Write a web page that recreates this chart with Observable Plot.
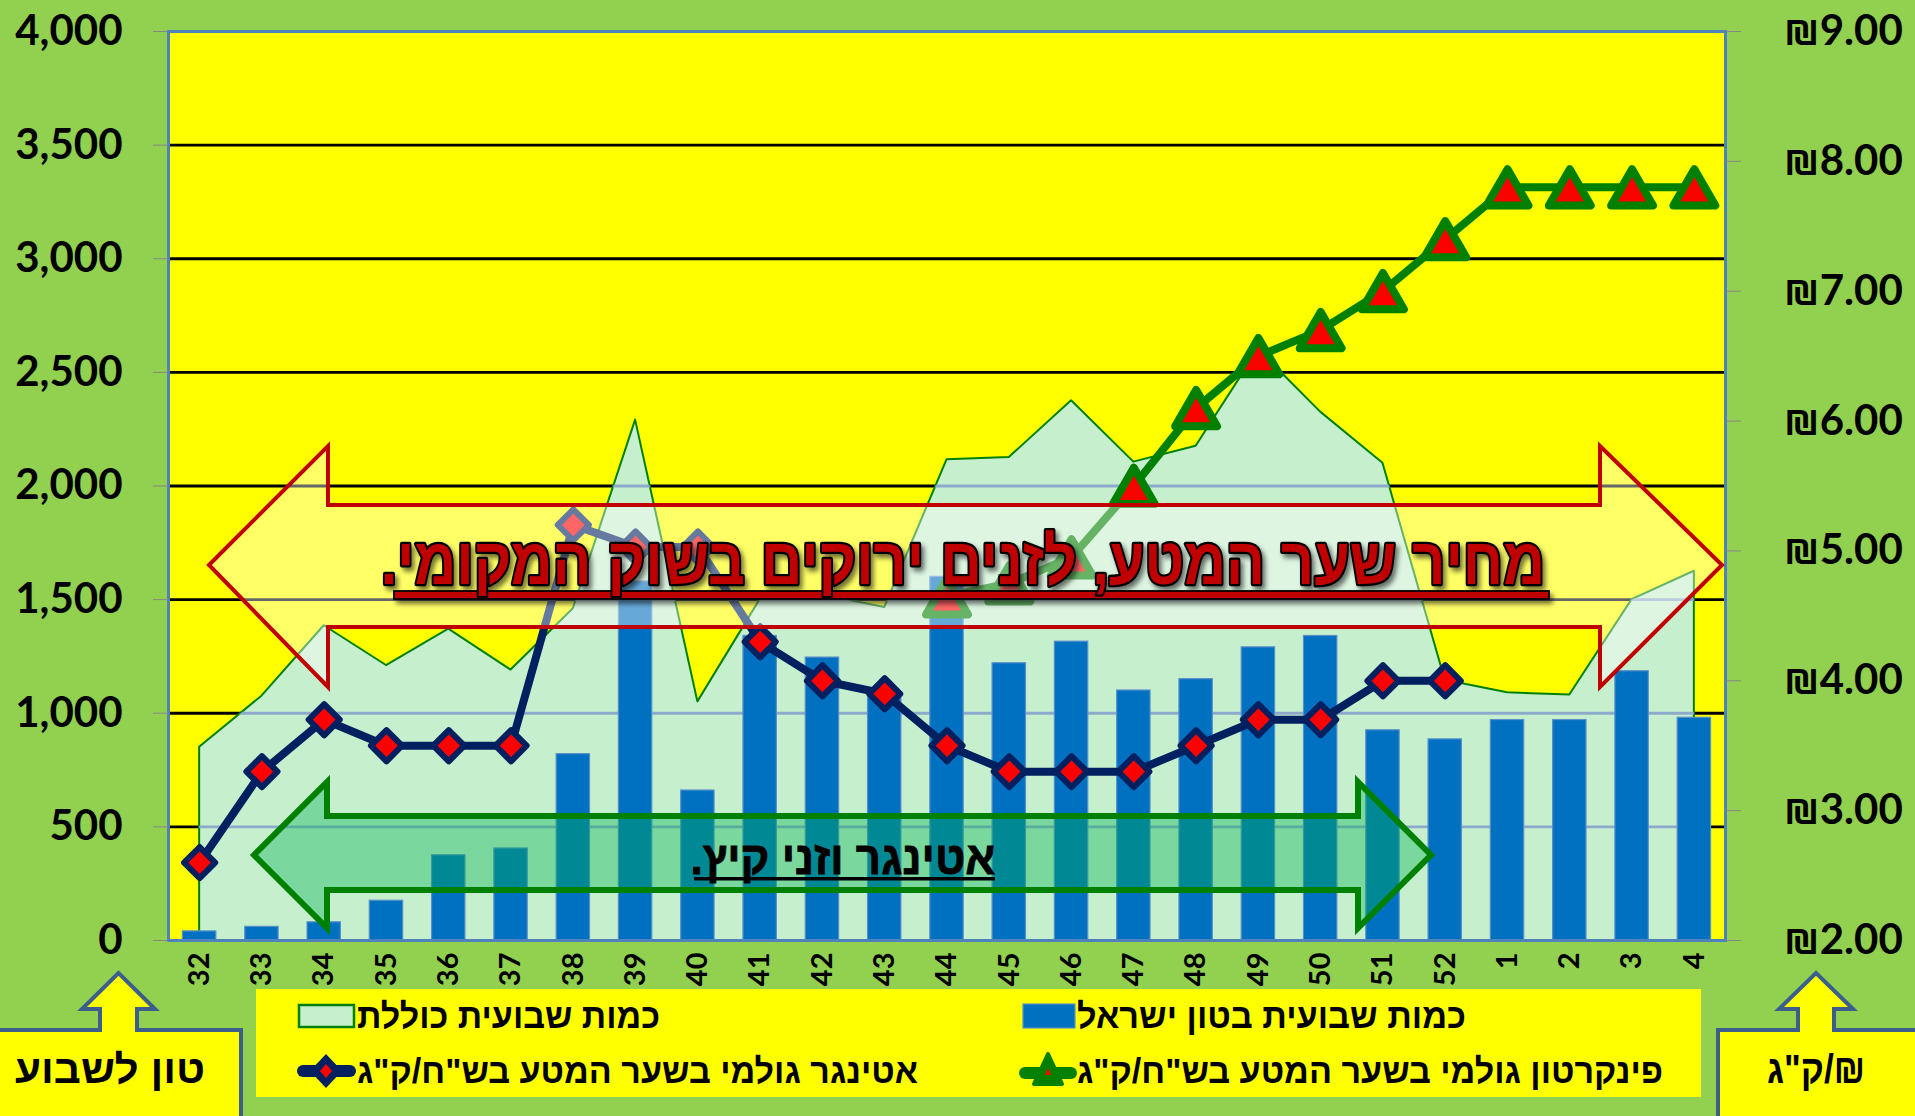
<!DOCTYPE html>
<html><head><meta charset="utf-8">
<script src="https://cdn.jsdelivr.net/npm/d3@7"></script>
<script src="https://cdn.jsdelivr.net/npm/@observablehq/plot@0.6"></script>
<style>
html,body{margin:0;padding:0;background:#92D050;overflow:hidden}
#chart{position:relative;width:1915px;height:1116px}
</style></head><body><div id="chart"></div>
<script>
// ---- data ----
const weeks = ["32","33","34","35","36","37","38","39","40","41","42","43","44","45","46","47","48","49","50","51","52","1","2","3","4"];
const israelTons = [40,60,80,175,375,405,820,1580,660,1340,1245,1070,1600,1220,1315,1100,1150,1290,1340,925,885,970,970,1185,980];
const totalTons = [850,1075,1385,1210,1370,1190,1460,2290,1050,1500,1520,1465,2115,2125,2375,2105,2175,2600,2325,2100,1145,1090,1080,1500,1625];
const ettingerPrice = [2.6,3.3,3.7,3.5,3.5,3.5,5.2,5.03,5.03,4.3,4.0,3.9,3.5,3.3,3.3,3.3,3.5,3.7,3.7,4.0,4.0,null,null,null,null];
const pinkertonPrice = [null,null,null,null,null,null,null,null,null,null,null,null,4.65,4.75,4.95,5.5,6.1,6.5,6.7,7.0,7.4,7.8,7.8,7.8,7.8];
const leftTicks = [0,500,1000,1500,2000,2500,3000,3500,4000];
const rightTicks = [2,3,4,5,6,7,8,9];
const legendLabels = ["כמות שבועית כוללת","כמות שבועית בטון ישראל","אטינגר גולמי בשער המטע בש\"ח/ק\"ג","פינקרטון גולמי בשער המטע בש\"ח/ק\"ג"];
const titleText = "מחיר שער המטע, לזנים ירוקים בשוק המקומי.";
const subText = "אטינגר וזני קיץ.";
const leftUnit = "טון לשבוע";
const rightUnit = "₪/ק\"ג";

// ---- layout ----
const W = 1915, H = 1116, mL = 168, mR = 190, mT = 31, mB = 176;
const rightMin = 2, rightMax = 9, leftMax = 4000;
const toLeft = p => (p - rightMin) * leftMax / (rightMax - rightMin);
const fromLeft = v => v * (rightMax - rightMin) / leftMax + rightMin;
const rows = weeks.map((w, i) => ({i, week: w, israel: israelTons[i], total: totalTons[i], ett: ettingerPrice[i], pink: pinkertonPrice[i]}));
const ettRows = rows.filter(d => d.ett != null);
const pinkRows = rows.filter(d => d.pink != null);
const halfBar = 0.268;
const numFont = "Lato, 'Open Sans', 'DejaVu Sans', sans-serif";
const hebFont = "'Liberation Sans', 'DejaVu Sans', sans-serif";

const plot = Plot.plot({
  width: W, height: H,
  marginLeft: mL, marginRight: mR, marginTop: mT, marginBottom: mB,
  style: {background: "transparent", overflow: "visible", fontFamily: numFont, color: "#000"},
  x: {type: "linear", domain: [-0.5, weeks.length - 0.5], label: null},
  y: {domain: [0, leftMax], label: null},
  marks: [
    Plot.frame({fill: "#FFFF00"}),
    Plot.ruleY(leftTicks.slice(1), {stroke: "#000", strokeWidth: 2.8}),
    Plot.areaY(rows, {x: "i", y: "total", fill: "#C6EFCE", stroke: "#008000", strokeWidth: 2}),
    Plot.ruleY(leftTicks.slice(1), {stroke: "#8EAACB", strokeWidth: 2.8}),
    Plot.rectY(rows, {x1: d => d.i - halfBar, x2: d => d.i + halfBar, y: "israel", fill: "#0070C0", stroke: "#5B8FC9", strokeWidth: 1.2}),
    Plot.line(ettRows, {x: "i", y: d => toLeft(d.ett), stroke: "#002060", strokeWidth: 8, strokeLinejoin: "round"}),
    Plot.dot(ettRows, {x: "i", y: d => toLeft(d.ett), symbol: "diamond2", r: 14, fill: "#FF0000", stroke: "#002060", strokeWidth: 6, strokeLinejoin: "round"}),
    Plot.line(pinkRows, {x: "i", y: d => toLeft(d.pink), stroke: "#008000", strokeWidth: 8, strokeLinejoin: "round"}),
    Plot.dot(pinkRows, {x: "i", y: d => toLeft(d.pink), symbol: "triangle2", r: 20, dy: 6, fill: "#FF0000", stroke: "#008000", strokeWidth: 8, strokeLinejoin: "round"}),
    Plot.frame({stroke: "#4F81BD", strokeWidth: 3}),
    Plot.axisY(leftTicks, {anchor: "left", tickFormat: d3.format(","), tickSize: 15, tickPadding: 31, fontSize: 42, fontWeight: "bold", stroke: "#868686", fill: "#000", label: null}),
    Plot.axisY(rightTicks.map(toLeft), {anchor: "right", tickFormat: v => "₪" + fromLeft(v).toFixed(2), tickSize: 15, tickPadding: 43, fontSize: 42, fontWeight: "bold", stroke: "#868686", fill: "#000", label: null}),
    Plot.axisX(d3.range(weeks.length), {tickFormat: i => weeks[i], tickSize: 0, tickPadding: 12, tickRotate: -90, fontSize: 29, fontWeight: "bold", fill: "#000", label: null})
  ]
});
document.getElementById("chart").appendChild(plot);

// ---- clip the blue-grey gridlines to the area ----
const svg = d3.select(plot);
const defs = svg.append("defs");
const areaD = svg.select("g[aria-label='area'] path").attr("d");
defs.append("clipPath").attr("id", "areaClip").append("path").attr("d", areaD);
const ruleGroups = svg.selectAll("g[aria-label='rule']").nodes();
if (ruleGroups[1]) d3.select(ruleGroups[1]).attr("clip-path", "url(#areaClip)");

const sh = defs.append("filter").attr("id", "shadow").attr("x", "-10%").attr("y", "-40%").attr("width", "120%").attr("height", "180%");
sh.append("feDropShadow").attr("dx", 3).attr("dy", 4).attr("stdDeviation", 2.5).attr("flood-color", "#000").attr("flood-opacity", 0.55);

const ann = svg.append("g");
const poly = pts => pts.map(p => p.join(",")).join(" ");
// red double arrow
ann.append("polygon").attr("points", poly([[209,565],[328,446],[328,505],[1600,505],[1600,446],[1722,565],[1600,687],[1600,627],[328,627],[328,687]]))
  .attr("fill", "#FFFFFF").attr("fill-opacity", 0.4).attr("stroke", "#C00000").attr("stroke-width", 4);
// green double arrow
ann.append("polygon").attr("points", poly([[254,855],[327,782],[327,816],[1358,816],[1358,782],[1431,855],[1358,928],[1358,890],[327,890],[327,928]]))
  .attr("fill", "#00B050").attr("fill-opacity", 0.38).attr("stroke", "#008000").attr("stroke-width", 6);

// title in red arrow
const tg = ann.append("g").attr("filter", "url(#shadow)");
tg.append("rect").attr("x", 394).attr("y", 591).attr("width", 1155).attr("height", 8).attr("fill", "#C00000").attr("stroke", "#000").attr("stroke-width", 1.8);
tg.append("text").attr("x", 963).attr("y", 584).attr("text-anchor", "middle").attr("direction", "rtl")
  .attr("font-family", hebFont).attr("font-weight", "bold").attr("font-size", 66)
  .attr("textLength", 1164).attr("lengthAdjust", "spacingAndGlyphs")
  .attr("fill", "#C00000").attr("stroke", "#000").attr("stroke-width", 4.5).attr("stroke-linejoin", "round").attr("paint-order", "stroke")
  .text(titleText);
// text in green arrow
ann.append("rect").attr("x", 694).attr("y", 877).attr("width", 301).attr("height", 3.5).attr("fill", "#000");
ann.append("text").attr("x", 843).attr("y", 874).attr("text-anchor", "middle").attr("direction", "rtl")
  .attr("font-family", hebFont).attr("font-weight", "bold").attr("font-size", 47)
  .attr("textLength", 305).attr("lengthAdjust", "spacingAndGlyphs").attr("fill", "#000")
  .attr("stroke", "#000").attr("stroke-width", 0.8)
  .text(subText);

// ---- legend ----
const lg = svg.append("g");
lg.append("rect").attr("x", 256).attr("y", 989).attr("width", 1445).attr("height", 108).attr("fill", "#FFFF00");
lg.append("rect").attr("x", 299).attr("y", 1005).attr("width", 55).attr("height", 22).attr("fill", "#C6EFCE").attr("stroke", "#008000").attr("stroke-width", 2.5);
lg.append("rect").attr("x", 1023).attr("y", 1004).attr("width", 52).attr("height", 24).attr("fill", "#0070C0").attr("stroke", "#5B8FC9").attr("stroke-width", 1.2);
lg.append("line").attr("x1", 303).attr("x2", 350).attr("y1", 1071).attr("y2", 1071).attr("stroke", "#002060").attr("stroke-width", 12).attr("stroke-linecap", "round");
lg.append("polygon").attr("points", poly([[326,1054],[342,1071],[326,1088],[310,1071]])).attr("fill", "#002060");
lg.append("polygon").attr("points", poly([[326,1064],[332,1071],[326,1078],[320,1071]])).attr("fill", "#FF0000");
lg.append("line").attr("x1", 1025).attr("x2", 1071).attr("y1", 1073).attr("y2", 1073).attr("stroke", "#008000").attr("stroke-width", 12).attr("stroke-linecap", "round");
lg.append("polygon").attr("points", poly([[1048,1054],[1062,1084],[1034,1084]])).attr("fill", "#008000").attr("stroke", "#008000").attr("stroke-width", 4).attr("stroke-linejoin", "round");
lg.append("polygon").attr("points", poly([[1048,1068],[1051,1075],[1045,1075]])).attr("fill", "#FF0000");
const legendPos = [[508.5, 1028, 303], [1271.5, 1028, 389], [637.5, 1083, 561], [1370, 1083, 586]];
legendLabels.forEach((t, k) => {
  const [x, y, len] = legendPos[k];
  lg.append("text").attr("x", x).attr("y", y).attr("text-anchor", "middle").attr("direction", "rtl")
    .attr("font-family", hebFont).attr("font-weight", "bold").attr("font-size", 35)
    .attr("textLength", len).attr("lengthAdjust", "spacingAndGlyphs").attr("fill", "#000").text(t);
});

// ---- unit callout boxes ----
const cg = svg.append("g");
cg.append("path").attr("d", "M-10,1030 H100 V1009 H82 L118.5,973 L155,1009 H137 V1030 H241 V1130 H-10 Z")
  .attr("fill", "#FFFF00").attr("stroke", "#3B5E8C").attr("stroke-width", 4);
cg.append("path").attr("d", "M1718,1130 V1030 H1798 V1009 H1779 L1816,973 L1853,1009 H1834 V1030 H1925 V1130 Z")
  .attr("fill", "#FFFF00").attr("stroke", "#3B5E8C").attr("stroke-width", 4);
cg.append("text").attr("x", 110).attr("y", 1083).attr("text-anchor", "middle").attr("direction", "rtl")
  .attr("font-family", hebFont).attr("font-weight", "bold").attr("font-size", 40)
  .attr("textLength", 190).attr("lengthAdjust", "spacingAndGlyphs").attr("fill", "#000").text(leftUnit);
cg.append("text").attr("x", 1816).attr("y", 1083).attr("text-anchor", "middle").attr("direction", "rtl")
  .attr("font-family", hebFont).attr("font-weight", "bold").attr("font-size", 40)
  .attr("textLength", 98).attr("lengthAdjust", "spacingAndGlyphs").attr("fill", "#000").text(rightUnit);
</script></body></html>
